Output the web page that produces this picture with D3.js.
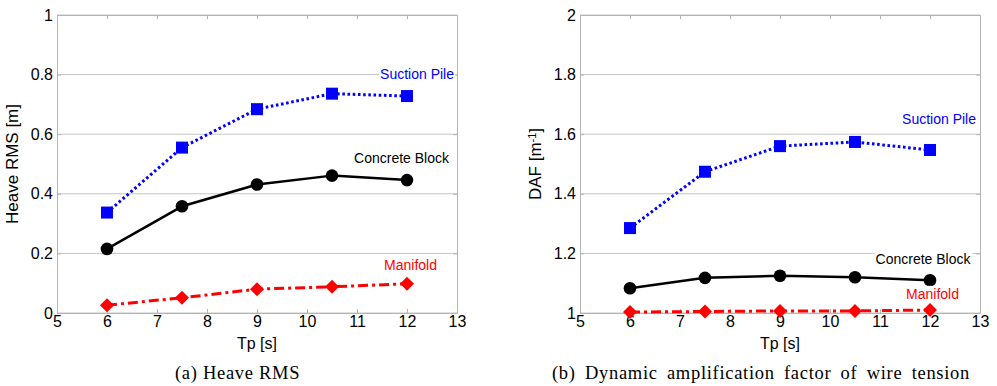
<!DOCTYPE html>
<html>
<head>
<meta charset="utf-8">
<script src="https://cdn.jsdelivr.net/npm/d3@7"></script>
<style>
  body { margin: 0; background: #fff; }
</style>
</head>
<body>
<svg></svg>
<script>
// data
const tp = [6, 7.5, 9, 10.5, 12];
const heaveSuction = [0.337, 0.555, 0.684, 0.736, 0.728];
const heaveConcrete = [0.215, 0.358, 0.431, 0.461, 0.446];
const heaveManifold = [0.026, 0.051, 0.080, 0.088, 0.098];
const dafSuction = [1.285, 1.474, 1.560, 1.574, 1.547];
const dafConcrete = [1.083, 1.118, 1.125, 1.120, 1.110];
const dafManifold = [1.003, 1.005, 1.007, 1.007, 1.010];
const xTicks = [5, 6, 7, 8, 9, 10, 11, 12, 13];
const heaveTicks = [0, 0.2, 0.4, 0.6, 0.8, 1];
const dafTicks = [1, 1.2, 1.4, 1.6, 1.8, 2];

const width = 997, height = 386;
const plotTop = 15, plotBottom = 313, plotW = 400;
const sans = '"Liberation Sans", Arial, sans-serif';
const serif = '"Liberation Serif", "DejaVu Serif", serif';
const svg = d3.select('svg').attr('width', width).attr('height', height);

const styles = {
	suction: { color: '#0000ff', dash: '2.6,2.6', width: 3, symbol: 'square' },
	concrete: { color: '#000000', dash: null, width: 2.5, symbol: 'circle' },
	manifold: { color: '#ff0000', dash: '10,4,3,4', width: 3, symbol: 'diamond' }
};

const panels = [
	{
		x0: 57, yDomain: [0, 1], yTicks: heaveTicks,
		ylabel: 'Heave RMS [m]', ylabelX: 18,
		caption: '(a) Heave RMS', capX: 175, capW: 125,
		series: [
			{ key: 'suction', values: heaveSuction, name: 'Suction Pile', lx: 12.94, ly: 0.803 },
			{ key: 'concrete', values: heaveConcrete, name: 'Concrete Block', lx: 12.84, ly: 0.521 },
			{ key: 'manifold', values: heaveManifold, name: 'Manifold', lx: 12.6, ly: 0.161 }
		]
	},
	{
		x0: 580, yDomain: [1, 2], yTicks: dafTicks,
		ylabel: 'DAF [m', ylabelSup: '-1', ylabelX: 541,
		caption: '(b) Dynamic amplification factor of wire tension', capX: 552, capW: 418,
		series: [
			{ key: 'suction', values: dafSuction, name: 'Suction Pile', lx: 12.92, ly: 1.65 },
			{ key: 'concrete', values: dafConcrete, name: 'Concrete Block', lx: 12.81, ly: 1.181 },
			{ key: 'manifold', values: dafManifold, name: 'Manifold', lx: 12.58, ly: 1.064 }
		]
	}
];

panels.forEach(drawPanel);

function drawPanel(p) {
	const x = d3.scaleLinear().domain([5, 13]).range([p.x0, p.x0 + plotW]);
	const y = d3.scaleLinear().domain(p.yDomain).range([plotBottom, plotTop]);
	const g = svg.append('g').style('font-family', sans);

	// horizontal grid
	g.append('g')
		.selectAll('line')
		.data(p.yTicks)
		.enter()
		.append('line')
		.attr('x1', x(5))
		.attr('x2', x(13))
		.attr('y1', (d) => y(d))
		.attr('y2', (d) => y(d))
		.attr('stroke', '#c4c4c4')
		.attr('stroke-width', 1);

	// axes, ticks pointing inside
	const bottomAxis = g.append('g')
		.attr('transform', 'translate(0,' + plotBottom + ')')
		.call(d3.axisBottom(x).tickValues(xTicks).tickSize(-4).tickPadding(4).tickSizeOuter(0).tickFormat(d3.format('d')));
	g.append('g')
		.attr('transform', 'translate(0,' + plotTop + ')')
		.call(d3.axisTop(x).tickValues(xTicks).tickSize(-4).tickSizeOuter(0).tickFormat(''));
	g.append('g')
		.attr('transform', 'translate(' + p.x0 + ',0)')
		.call(d3.axisLeft(y).tickValues(p.yTicks).tickSize(-4).tickPadding(4).tickSizeOuter(0).tickFormat(d3.format('~g')));
	g.append('g')
		.attr('transform', 'translate(' + (p.x0 + plotW) + ',0)')
		.call(d3.axisRight(y).tickValues(p.yTicks).tickSize(-4).tickSizeOuter(0).tickFormat(''));
	g.selectAll('.domain, .tick line').attr('stroke', '#b4b4b4');
	g.selectAll('.tick text').attr('font-size', '16px').attr('fill', '#000').attr('font-family', null);
	bottomAxis.selectAll('.tick text').attr('dy', '0.6em');

	// series
	p.series.forEach((s) => {
		const st = styles[s.key];
		const pts = tp.map((t, i) => [t, s.values[i]]);
		const line = d3.line().x((d) => x(d[0])).y((d) => y(d[1]));
		g.append('path')
			.attr('d', line(pts))
			.attr('fill', 'none')
			.attr('stroke', st.color)
			.attr('stroke-width', st.width)
			.attr('stroke-dasharray', st.dash)
			.attr('stroke-linejoin', 'round');
		let sym, rot = 0;
		if (st.symbol === 'square') sym = d3.symbol(d3.symbolSquare, 144);
		else if (st.symbol === 'circle') sym = d3.symbol(d3.symbolCircle, 125);
		else { sym = d3.symbol(d3.symbolSquare, 98); rot = 45; }
		g.append('g')
			.selectAll('path')
			.data(pts)
			.enter()
			.append('path')
			.attr('d', sym)
			.attr('transform', (d) => 'translate(' + x(d[0]) + ',' + y(d[1]) + ') rotate(' + rot + ')')
			.attr('fill', st.color);

		// label with white backing
		const lbl = g.append('text')
			.attr('x', x(s.lx))
			.attr('y', y(s.ly))
			.attr('dy', '0.35em')
			.attr('text-anchor', 'end')
			.attr('font-size', '14px')
			.attr('fill', st.color)
			.text(s.name);
		const bb = lbl.node().getBBox();
		g.insert('rect', function () { return lbl.node(); })
			.attr('x', bb.x - 1)
			.attr('y', bb.y)
			.attr('width', bb.width + 2)
			.attr('height', bb.height)
			.attr('fill', '#fff');
	});

	// axis titles
	g.append('text')
		.attr('x', x(9))
		.attr('y', 349)
		.attr('text-anchor', 'middle')
		.attr('font-size', '16px')
		.text('Tp [s]');
	const yl = g.append('text')
		.attr('transform', 'translate(' + p.ylabelX + ',' + (plotTop + plotBottom) / 2 + ') rotate(-90)')
		.attr('text-anchor', 'middle')
		.attr('font-size', '17px')
		.text(p.ylabel);
	if (p.ylabelSup) {
		yl.append('tspan').attr('dy', '-0.45em').attr('font-size', '11px').text(p.ylabelSup);
		yl.append('tspan').attr('dy', '0.3em').text(']');
	}

	// caption, spacing stretched to the reference width
	const cap = g.append('text')
		.attr('x', p.capX)
		.attr('y', 379)
		.attr('font-size', '18.5px')
		.style('font-family', serif)
		.style('letter-spacing', '0.7px')
		.text(p.caption);
	const natural = cap.node().getComputedTextLength();
	const gaps = p.caption.split(' ').length - 1;
	cap.style('word-spacing', Math.max(0, (p.capW - natural) / gaps) + 'px');
}
</script>
</body>
</html>
